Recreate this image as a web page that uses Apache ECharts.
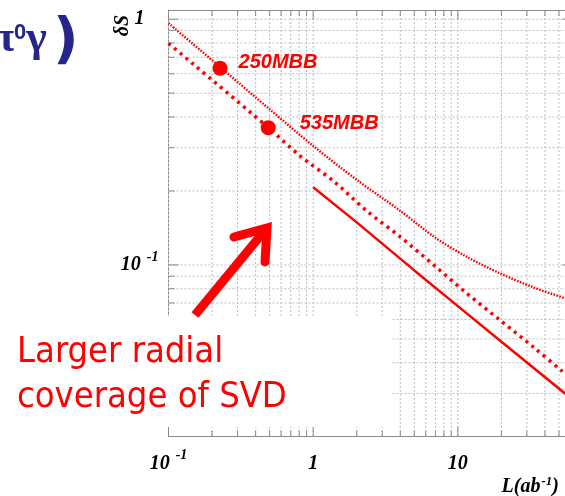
<!DOCTYPE html>
<html><head><meta charset="utf-8">
<script src="https://cdn.jsdelivr.net/npm/echarts@6/dist/echarts.min.js"></script>
<style>html,body{margin:0;padding:0;background:#fff;overflow:hidden}#c{width:565px;height:496px}</style>
</head><body><div id="c"></div>
<script>
// ---- axis ranges and ticks ----
const xRange = [0.1, 62];
const yRange = [0.02, 1.09];
const xMajorTicks = [0.1, 1, 10];
const xMinorTicks = [0.2,0.3,0.4,0.5,0.6,0.7,0.8,0.9,2,3,4,5,6,7,8,9,20,30,40,50,60];
const yMajorTicks = [0.1, 1];
const yMinorTicks = [0.03,0.04,0.05,0.06,0.07,0.08,0.09,0.2,0.3,0.4,0.5,0.6,0.7,0.8,0.9];
const xTickLabels = ['10^-1', '1', '10'];
const yTickLabelVals = [0.1, 1];
const yTickLabels = ['10^-1', '1'];

// ---- curves ----
const dottedX = [0.1, 0.23, 0.5, 1, 2, 4, 7, 11.5, 19.5, 33, 55, 62];
const dottedY = [0.963, 0.635, 0.43, 0.305, 0.222, 0.166, 0.129, 0.108, 0.0925, 0.0812, 0.0732, 0.072];
const dashedX = [0.1, 0.49, 0.81, 1.4, 2.3, 4, 6.8, 11.5, 19.5, 33, 53, 62];
const dashedY = [0.798, 0.362, 0.278, 0.218, 0.1675, 0.130, 0.100, 0.0767, 0.0597, 0.0465, 0.0368, 0.034];
const solidX = [1, 2, 5, 10, 20, 55, 62];
const solidY = [0.207, 0.149, 0.095, 0.068, 0.0487, 0.030, 0.0283];

// ---- marked points ----
const mbbX = [0.227, 0.489];
const mbbY = [0.632, 0.362];
const mbbLabels = ['250MBB', '535MBB'];

const RED = '#ff0000';
const NAVY = '#25258c';
const SERIF = "'Liberation Serif', 'DejaVu Serif', serif";

function toRich(s) {
  const i = s.indexOf('^');
  if (i < 0) return '{n|' + s + '}';
  return '{n|' + s.slice(0, i) + '}{s|' + s.slice(i + 1) + '}';
}
function findLabel(vals, labels, v) {
  for (let i = 0; i < vals.length; i++) {
    if (Math.abs(Math.log10(v) - Math.log10(vals[i])) < 1e-6) return labels[i];
  }
  return null;
}
const zip = (a, b) => a.map((v, i) => [v, b[i]]);

const labelRich = {
  n: { fontFamily: SERIF, fontStyle: 'italic', fontWeight: 'bold', fontSize: 20, color: '#000', verticalAlign: 'bottom', padding: [10, 0, 10, 0] },
  s: { fontFamily: SERIF, fontStyle: 'italic', fontWeight: 'bold', fontSize: 14, color: '#000', verticalAlign: 'bottom', padding: [0, 0, 21, 6] },
  one: { fontFamily: SERIF, fontStyle: 'italic', fontWeight: 'bold', fontSize: 20, color: '#000', padding: [0, 14, 0, 0] }
};
const nameRich = {
  n: { fontFamily: SERIF, fontStyle: 'italic', fontWeight: 'bold', fontSize: 20, color: '#000', verticalAlign: 'bottom' },
  s: { fontFamily: SERIF, fontStyle: 'italic', fontWeight: 'bold', fontSize: 13, color: '#000', verticalAlign: 'bottom', padding: [0, 0, 9, 1] }
};

const GRID_COLOR = '#bdbdbd';
const AXIS_COLOR = '#8a8a8a';

function vGridSeries(vals, tickLen) {
  return {
    type: 'custom', z: 1, silent: true, clip: false,
    data: vals.map(v => [v, 0.5]),
    renderItem: function (params, api) {
      const cs = params.coordSys;
      const x = api.coord([api.value(0), 0.5])[0];
      const top = cs.y, bot = cs.y + cs.height;
      return { type: 'group', children: [
        { type: 'line', shape: { x1: x, y1: top, x2: x, y2: bot }, style: { stroke: GRID_COLOR, lineWidth: 1, lineDash: [2, 2] } },
        { type: 'line', shape: { x1: x, y1: bot, x2: x, y2: bot - tickLen }, style: { stroke: AXIS_COLOR, lineWidth: 1 } },
        { type: 'line', shape: { x1: x, y1: top, x2: x, y2: top + tickLen }, style: { stroke: AXIS_COLOR, lineWidth: 1 } }
      ] };
    }
  };
}
function hGridSeries(vals, tickLen) {
  return {
    type: 'custom', z: 1, silent: true, clip: false,
    data: vals.map(v => [1, v]),
    renderItem: function (params, api) {
      const cs = params.coordSys;
      const y = api.coord([1, api.value(1)])[1];
      const left = cs.x, right = cs.x + cs.width;
      return { type: 'group', children: [
        { type: 'line', shape: { x1: left, y1: y, x2: right, y2: y }, style: { stroke: GRID_COLOR, lineWidth: 1, lineDash: [2, 2] } },
        { type: 'line', shape: { x1: left, y1: y, x2: left + tickLen, y2: y }, style: { stroke: AXIS_COLOR, lineWidth: 1 } },
        { type: 'line', shape: { x1: right, y1: y, x2: right - tickLen, y2: y }, style: { stroke: AXIS_COLOR, lineWidth: 1 } }
      ] };
    }
  };
}

const chart = echarts.init(document.getElementById('c'), null, { renderer: 'canvas' });
chart.setOption({
  animation: false,
  backgroundColor: '#fff',
  grid: { left: 168.5, top: 10, width: 404, height: 426.7, containLabel: false, outerBoundsMode: 'none' },
  xAxis: [{
    type: 'log', logBase: 10, min: xRange[0], max: xRange[1],
    name: '{n|L(ab}{s|-1}{n|)}',
    nameLocation: 'middle', nameGap: 38, nameMoveOverlap: false,
    nameTextStyle: { align: 'left', padding: [0, 0, 0, 131], rich: nameRich },
    axisLine: { show: true, lineStyle: { color: AXIS_COLOR, width: 1 } },
    axisTick: { show: false },
    splitLine: { show: false },
    axisLabel: {
      margin: 7, rich: labelRich,
      formatter: v => { const l = findLabel(xMajorTicks, xTickLabels, v); return l ? toRich(l) : ''; }
    }
  }, {
    type: 'log', logBase: 10, min: xRange[0], max: xRange[1], position: 'top',
    axisLine: { show: true, lineStyle: { color: AXIS_COLOR, width: 1 } },
    axisTick: { show: false }, axisLabel: { show: false }, splitLine: { show: false }
  }],
  yAxis: {
    type: 'log', logBase: 10, min: yRange[0], max: yRange[1],
    name: 'δS', nameLocation: 'middle', nameRotate: 90, nameGap: 36, nameMoveOverlap: false,
    nameTextStyle: { align: 'left', padding: [0, 0, 0, 187], fontFamily: SERIF, fontStyle: 'italic', fontWeight: 'bold', fontSize: 20, color: '#000' },
    axisLine: { show: true, lineStyle: { color: AXIS_COLOR, width: 1 } },
    axisTick: { show: false },
    splitLine: { show: false },
    axisLabel: {
      margin: 10, rich: labelRich,
      formatter: v => {
        const l = findLabel(yTickLabelVals, yTickLabels, v);
        if (!l) return '';
        return l === '1' ? '{one|1}' : toRich(l);
      }
    }
  },
  graphic: [
    { type: 'rect', z: 5, silent: true, shape: { x: 0, y: 316, width: 392, height: 111 }, style: { fill: '#fff' } },
    { type: 'text', z: 6, silent: true, x: 17, y: 330,
      style: { text: 'Larger radial\ncoverage of SVD', fill: RED, font: "36px 'DejaVu Sans Condensed', 'DejaVu Sans', sans-serif", lineHeight: 45 } },
    { type: 'polyline', z: 6, silent: true, shape: { points: [[195, 315], [266, 229]] }, style: { stroke: RED, lineWidth: 9, fill: null } },
    { type: 'polyline', z: 6, silent: true, shape: { points: [[234, 237], [267, 228], [265, 262]] }, style: { stroke: RED, lineWidth: 9, fill: null, lineJoin: 'miter', lineCap: 'round' } },
    { type: 'text', z: 6, silent: true, x: -10, y: 14,
      style: { text: '{g|π}{s|0}{g|γ}{p|)}', fill: NAVY,
        rich: {
          g: { fontFamily: SERIF, fontSize: 44, fontWeight: 'bold', fill: NAVY, verticalAlign: 'bottom', padding: [0, 0, 8, 0] },
          s: { fontFamily: "'Liberation Sans', sans-serif", fontWeight: 'bold', fontSize: 22, fill: NAVY, verticalAlign: 'bottom', padding: [0, 0, 26, 0] },
          p: { fontFamily: "'DejaVu Sans', sans-serif", fontWeight: 'bold', fontSize: 56, fill: NAVY, verticalAlign: 'bottom', padding: [0, 0, 0, 6] }
        } } }
  ],
  series: [
    vGridSeries(xMinorTicks, 6),
    vGridSeries(xMajorTicks, 10),
    hGridSeries(yMinorTicks, 6),
    hGridSeries(yMajorTicks, 10),
    { type: 'line', z: 10, data: zip(dottedX, dottedY), showSymbol: false, symbol: 'none', smooth: 0.3,
      lineStyle: { color: RED, width: 2.4, type: [1.6, 1.4] } },
    { type: 'line', z: 10, data: zip(dashedX, dashedY), showSymbol: false, symbol: 'none', smooth: 0.3,
      lineStyle: { color: RED, width: 3.5, type: [3, 4.5] } },
    { type: 'line', z: 10, data: zip(solidX, solidY), showSymbol: false, symbol: 'none',
      lineStyle: { color: RED, width: 2.5 } },
    { type: 'scatter', z: 11, symbol: 'circle', symbolSize: 15, itemStyle: { color: RED, opacity: 1 },
      data: mbbX.map((x, i) => ({ value: [x, mbbY[i]], name: mbbLabels[i],
        label: { offset: i === 0 ? [6, -6] : [19, -4] } })),
      label: { show: true, position: 'right', distance: 5, formatter: p => p.name, opacity: 1,
        fontFamily: "'Liberation Sans', Arial, sans-serif", fontStyle: 'italic', fontWeight: 'bold', fontSize: 20, color: RED } }
  ]
});
</script></body></html>
